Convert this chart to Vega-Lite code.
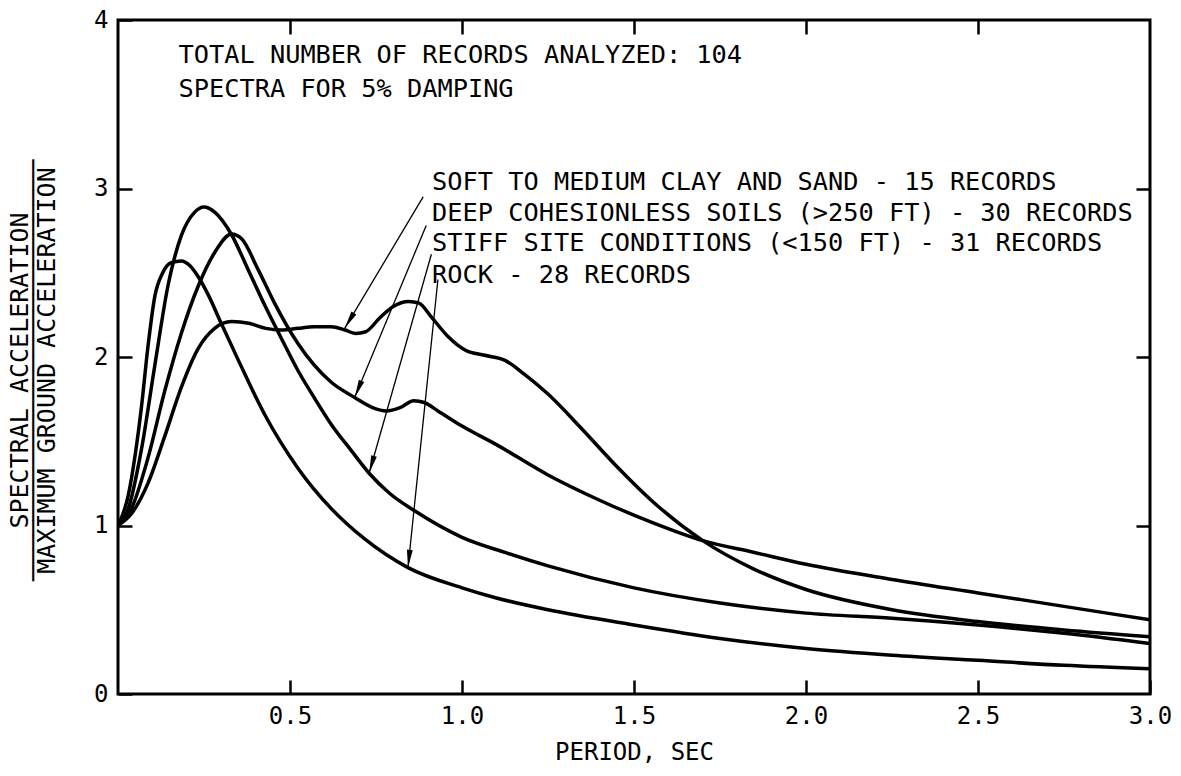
{
  "$schema": "https://vega.github.io/schema/vega-lite/v6.json",
  "width": 1032,
  "height": 674,
  "autosize": {"type": "none"},
  "padding": {"left": 118, "top": 20, "right": 31, "bottom": 82},
  "background": "white",
  "config": {
    "view": {"stroke": "black", "strokeWidth": 3},
    "font": "DejaVu Sans Mono",
    "axis": {
      "labelFont": "DejaVu Sans Mono",
      "labelFontSize": 24,
      "labelColor": "black",
      "labelFlush": false,
      "titleFont": "DejaVu Sans Mono",
      "titleFontSize": 24,
      "titleFontWeight": "normal",
      "titleColor": "black",
      "tickColor": "black",
      "tickWidth": 2.5,
      "domain": false,
      "grid": false
    }
  },
  "datasets": {
    "curves": [
      {"series": "Rock", "period": 0.0, "ratio": 1.0},
      {"series": "Rock", "period": 0.03, "ratio": 1.18},
      {"series": "Rock", "period": 0.05, "ratio": 1.42},
      {"series": "Rock", "period": 0.068, "ratio": 1.7},
      {"series": "Rock", "period": 0.087, "ratio": 2.06},
      {"series": "Rock", "period": 0.107, "ratio": 2.36},
      {"series": "Rock", "period": 0.13, "ratio": 2.5},
      {"series": "Rock", "period": 0.155, "ratio": 2.56},
      {"series": "Rock", "period": 0.184, "ratio": 2.57},
      {"series": "Rock", "period": 0.21, "ratio": 2.54},
      {"series": "Rock", "period": 0.235, "ratio": 2.47},
      {"series": "Rock", "period": 0.262, "ratio": 2.37},
      {"series": "Rock", "period": 0.3, "ratio": 2.2},
      {"series": "Rock", "period": 0.35, "ratio": 1.98},
      {"series": "Rock", "period": 0.426, "ratio": 1.66},
      {"series": "Rock", "period": 0.523, "ratio": 1.34},
      {"series": "Rock", "period": 0.62, "ratio": 1.1},
      {"series": "Rock", "period": 0.717, "ratio": 0.92},
      {"series": "Rock", "period": 0.843, "ratio": 0.75},
      {"series": "Rock", "period": 1.0, "ratio": 0.63},
      {"series": "Rock", "period": 1.1, "ratio": 0.57},
      {"series": "Rock", "period": 1.25, "ratio": 0.5},
      {"series": "Rock", "period": 1.5, "ratio": 0.41},
      {"series": "Rock", "period": 1.75, "ratio": 0.33},
      {"series": "Rock", "period": 2.0, "ratio": 0.27},
      {"series": "Rock", "period": 2.25, "ratio": 0.23},
      {"series": "Rock", "period": 2.5, "ratio": 0.2},
      {"series": "Rock", "period": 2.75, "ratio": 0.17},
      {"series": "Rock", "period": 3.0, "ratio": 0.15},

      {"series": "Stiff", "period": 0.0, "ratio": 1.0},
      {"series": "Stiff", "period": 0.03, "ratio": 1.1},
      {"series": "Stiff", "period": 0.068, "ratio": 1.45},
      {"series": "Stiff", "period": 0.107, "ratio": 1.95},
      {"series": "Stiff", "period": 0.145, "ratio": 2.42},
      {"series": "Stiff", "period": 0.184, "ratio": 2.72},
      {"series": "Stiff", "period": 0.223, "ratio": 2.86},
      {"series": "Stiff", "period": 0.25, "ratio": 2.89},
      {"series": "Stiff", "period": 0.281, "ratio": 2.86},
      {"series": "Stiff", "period": 0.329, "ratio": 2.73},
      {"series": "Stiff", "period": 0.378, "ratio": 2.52},
      {"series": "Stiff", "period": 0.426, "ratio": 2.31},
      {"series": "Stiff", "period": 0.475, "ratio": 2.11},
      {"series": "Stiff", "period": 0.523, "ratio": 1.92},
      {"series": "Stiff", "period": 0.57, "ratio": 1.76},
      {"series": "Stiff", "period": 0.62, "ratio": 1.6},
      {"series": "Stiff", "period": 0.68, "ratio": 1.44},
      {"series": "Stiff", "period": 0.73, "ratio": 1.31},
      {"series": "Stiff", "period": 0.79, "ratio": 1.19},
      {"series": "Stiff", "period": 0.86, "ratio": 1.09},
      {"series": "Stiff", "period": 1.0, "ratio": 0.93},
      {"series": "Stiff", "period": 1.125, "ratio": 0.84},
      {"series": "Stiff", "period": 1.25, "ratio": 0.76},
      {"series": "Stiff", "period": 1.5, "ratio": 0.63},
      {"series": "Stiff", "period": 1.75, "ratio": 0.54},
      {"series": "Stiff", "period": 2.0, "ratio": 0.48},
      {"series": "Stiff", "period": 2.25, "ratio": 0.45},
      {"series": "Stiff", "period": 2.5, "ratio": 0.41},
      {"series": "Stiff", "period": 2.75, "ratio": 0.36},
      {"series": "Stiff", "period": 3.0, "ratio": 0.3},

      {"series": "Deep", "period": 0.0, "ratio": 1.0},
      {"series": "Deep", "period": 0.039, "ratio": 1.1},
      {"series": "Deep", "period": 0.087, "ratio": 1.4},
      {"series": "Deep", "period": 0.136, "ratio": 1.8},
      {"series": "Deep", "period": 0.184, "ratio": 2.14},
      {"series": "Deep", "period": 0.233, "ratio": 2.42},
      {"series": "Deep", "period": 0.281, "ratio": 2.62},
      {"series": "Deep", "period": 0.33, "ratio": 2.73},
      {"series": "Deep", "period": 0.36, "ratio": 2.7},
      {"series": "Deep", "period": 0.407, "ratio": 2.52},
      {"series": "Deep", "period": 0.455, "ratio": 2.32},
      {"series": "Deep", "period": 0.523, "ratio": 2.08},
      {"series": "Deep", "period": 0.62, "ratio": 1.85},
      {"series": "Deep", "period": 0.688, "ratio": 1.76},
      {"series": "Deep", "period": 0.74, "ratio": 1.7},
      {"series": "Deep", "period": 0.78, "ratio": 1.68},
      {"series": "Deep", "period": 0.82, "ratio": 1.7},
      {"series": "Deep", "period": 0.86, "ratio": 1.74},
      {"series": "Deep", "period": 0.89, "ratio": 1.73},
      {"series": "Deep", "period": 0.93, "ratio": 1.68},
      {"series": "Deep", "period": 1.0, "ratio": 1.59},
      {"series": "Deep", "period": 1.1, "ratio": 1.48},
      {"series": "Deep", "period": 1.25, "ratio": 1.3},
      {"series": "Deep", "period": 1.4, "ratio": 1.15},
      {"series": "Deep", "period": 1.55, "ratio": 1.02},
      {"series": "Deep", "period": 1.7, "ratio": 0.91},
      {"series": "Deep", "period": 1.85, "ratio": 0.84},
      {"series": "Deep", "period": 2.0, "ratio": 0.77},
      {"series": "Deep", "period": 2.25, "ratio": 0.68},
      {"series": "Deep", "period": 2.5, "ratio": 0.6},
      {"series": "Deep", "period": 2.75, "ratio": 0.52},
      {"series": "Deep", "period": 3.0, "ratio": 0.44},

      {"series": "Soft", "period": 0.0, "ratio": 1.0},
      {"series": "Soft", "period": 0.039, "ratio": 1.07},
      {"series": "Soft", "period": 0.087, "ratio": 1.25},
      {"series": "Soft", "period": 0.136, "ratio": 1.53},
      {"series": "Soft", "period": 0.184, "ratio": 1.82},
      {"series": "Soft", "period": 0.233, "ratio": 2.05},
      {"series": "Soft", "period": 0.281, "ratio": 2.17},
      {"series": "Soft", "period": 0.33, "ratio": 2.21},
      {"series": "Soft", "period": 0.38, "ratio": 2.2},
      {"series": "Soft", "period": 0.43, "ratio": 2.17},
      {"series": "Soft", "period": 0.475, "ratio": 2.16},
      {"series": "Soft", "period": 0.523, "ratio": 2.17},
      {"series": "Soft", "period": 0.57, "ratio": 2.18},
      {"series": "Soft", "period": 0.62, "ratio": 2.18},
      {"series": "Soft", "period": 0.66, "ratio": 2.16},
      {"series": "Soft", "period": 0.69, "ratio": 2.14},
      {"series": "Soft", "period": 0.72, "ratio": 2.15},
      {"series": "Soft", "period": 0.76, "ratio": 2.23},
      {"series": "Soft", "period": 0.8, "ratio": 2.3},
      {"series": "Soft", "period": 0.845, "ratio": 2.33},
      {"series": "Soft", "period": 0.875, "ratio": 2.32},
      {"series": "Soft", "period": 0.91, "ratio": 2.24},
      {"series": "Soft", "period": 0.96, "ratio": 2.12},
      {"series": "Soft", "period": 1.01, "ratio": 2.04},
      {"series": "Soft", "period": 1.066, "ratio": 2.01},
      {"series": "Soft", "period": 1.125, "ratio": 1.98},
      {"series": "Soft", "period": 1.18, "ratio": 1.9},
      {"series": "Soft", "period": 1.25, "ratio": 1.78},
      {"series": "Soft", "period": 1.35, "ratio": 1.57},
      {"series": "Soft", "period": 1.45, "ratio": 1.35},
      {"series": "Soft", "period": 1.55, "ratio": 1.15},
      {"series": "Soft", "period": 1.7, "ratio": 0.91},
      {"series": "Soft", "period": 1.85, "ratio": 0.74},
      {"series": "Soft", "period": 2.0, "ratio": 0.62},
      {"series": "Soft", "period": 2.25, "ratio": 0.5},
      {"series": "Soft", "period": 2.5, "ratio": 0.43},
      {"series": "Soft", "period": 2.75, "ratio": 0.38},
      {"series": "Soft", "period": 3.0, "ratio": 0.34}
    ],
    "arrows": [
      {"series": "Soft", "x_start": 0.887, "y_start": 2.95, "x_tip": 0.659, "y_tip": 2.17},
      {"series": "Deep", "x_start": 0.896, "y_start": 2.78, "x_tip": 0.688, "y_tip": 1.76},
      {"series": "Stiff", "x_start": 0.911, "y_start": 2.61, "x_tip": 0.73, "y_tip": 1.31},
      {"series": "Rock", "x_start": 0.93, "y_start": 2.46, "x_tip": 0.843, "y_tip": 0.75}
    ],
    "notes": [
      {"label": "TOTAL NUMBER OF RECORDS ANALYZED: 104", "x": 0.176, "y": 3.79},
      {"label": "SPECTRA FOR 5% DAMPING", "x": 0.176, "y": 3.59},
      {"label": "SOFT TO MEDIUM CLAY AND SAND - 15 RECORDS", "x": 0.913, "y": 3.036},
      {"label": "DEEP COHESIONLESS SOILS (>250 FT) - 30 RECORDS", "x": 0.913, "y": 2.856},
      {"label": "STIFF SITE CONDITIONS (<150 FT) - 31 RECORDS", "x": 0.913, "y": 2.677},
      {"label": "ROCK - 28 RECORDS", "x": 0.913, "y": 2.487}
    ]
  },
  "resolve": {"axis": {"x": "independent", "y": "independent"}},
  "layer": [
    {
      "data": {"name": "curves"},
      "mark": {"type": "line", "color": "black", "strokeWidth": 3.5, "interpolate": "monotone", "clip": true},
      "encoding": {
        "x": {
          "field": "period", "type": "quantitative",
          "scale": {"domain": [0, 3], "nice": false, "zero": false},
          "axis": {"orient": "bottom", "values": [0.5, 1, 1.5, 2, 2.5, 3], "format": ".1f", "tickSize": -14, "labelPadding": 24, "title": "PERIOD, SEC", "titlePadding": 12}
        },
        "y": {
          "field": "ratio", "type": "quantitative",
          "scale": {"domain": [0, 4], "nice": false, "zero": false},
          "axis": {"orient": "left", "values": [0, 1, 2, 3, 4], "format": "d", "tickSize": -14, "labelPadding": 24, "title": ["SPECTRAL ACCELERATION", "────────────────────────────", "MAXIMUM GROUND ACCELERATION"], "titleFontSize": 25, "titleLineHeight": 13.5, "titlePadding": 34, "titleY": 350}
        },
        "detail": {"field": "series"}
      }
    },
    {
      "data": {"name": "arrows"},
      "mark": {"type": "rule", "color": "black", "strokeWidth": 1.3},
      "encoding": {
        "x": {
          "field": "x_start", "type": "quantitative",
          "scale": {"domain": [0, 3], "nice": false, "zero": false},
          "axis": {"orient": "top", "values": [0.5, 1, 1.5, 2, 2.5], "tickSize": -14, "labels": false, "title": null}
        },
        "y": {
          "field": "y_start", "type": "quantitative",
          "scale": {"domain": [0, 4], "nice": false, "zero": false},
          "axis": {"orient": "right", "values": [1, 2, 3], "tickSize": -14, "labels": false, "title": null}
        },
        "x2": {"field": "x_tip"},
        "y2": {"field": "y_tip"}
      }
    },
    {
      "data": {"name": "arrows"},
      "transform": [
        {"calculate": "atan2((datum.x_tip - datum.x_start) * 344, (datum.y_tip - datum.y_start) * 168.5) * 180 / PI", "as": "head_angle"}
      ],
      "mark": {"type": "point", "filled": true, "color": "black", "opacity": 1, "shape": "M0,0 L-0.26,1.6 L0.26,1.6 Z", "size": 500},
      "encoding": {
        "x": {"field": "x_tip", "type": "quantitative", "scale": {"domain": [0, 3], "nice": false, "zero": false}, "axis": null},
        "y": {"field": "y_tip", "type": "quantitative", "scale": {"domain": [0, 4], "nice": false, "zero": false}, "axis": null},
        "angle": {"field": "head_angle", "type": "quantitative", "scale": null}
      }
    },
    {
      "data": {"name": "notes"},
      "mark": {"type": "text", "align": "left", "baseline": "middle", "font": "DejaVu Sans Mono", "fontSize": 25.3, "color": "black"},
      "encoding": {
        "x": {"field": "x", "type": "quantitative", "scale": {"domain": [0, 3], "nice": false, "zero": false}, "axis": null},
        "y": {"field": "y", "type": "quantitative", "scale": {"domain": [0, 4], "nice": false, "zero": false}, "axis": null},
        "text": {"field": "label"}
      }
    }
  ]
}
